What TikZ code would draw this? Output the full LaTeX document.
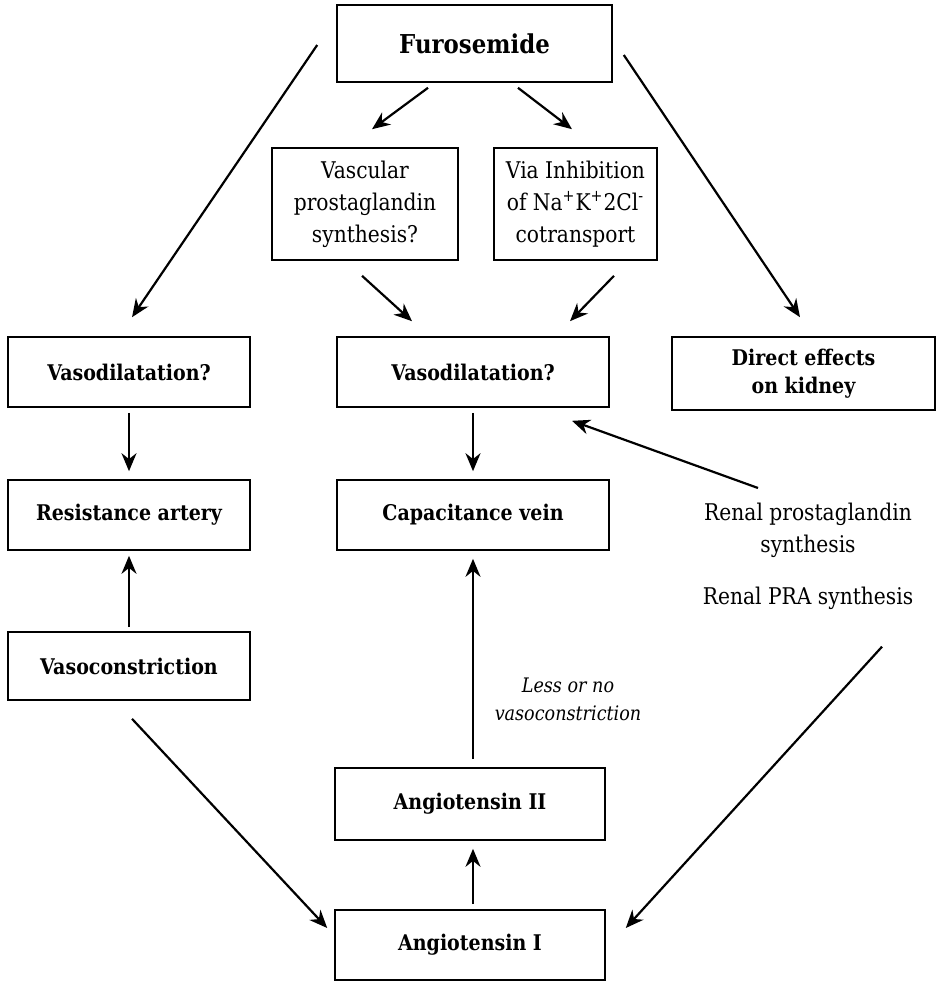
\documentclass[tikz,border=0pt]{standalone}
\usepackage{fontspec}
\setmainfont{DejaVu Serif}[FakeStretch=0.88]
\usetikzlibrary{arrows.meta,calc}
\tikzset{
  box/.style={draw=black, line width=0.8pt, inner sep=0pt, align=center},
  boldtxt/.style={font=\fontsize{10.8}{14}\selectfont\bfseries},
  regtxt/.style={font=\fontsize{11.5}{16}\selectfont},
  arr/.style={line width=1.1pt, -{Stealth[length=9pt,width=7.5pt]}},
}
\begin{document}
\begin{tikzpicture}[x=0.5pt,y=-0.5pt]
\useasboundingbox (0,0) rectangle (948,986);
\fill[white] (0,0) rectangle (948,986);
% boxes
\node[box, minimum width=137.5pt, minimum height=38.5pt, font=\fontsize{13}{16}\selectfont\bfseries] (furo) at (474.5,43.5) {Furosemide};
\node[box, regtxt, minimum width=93pt, minimum height=56pt] (vasc) at (365,204) {Vascular\\prostaglandin\\synthesis?};
\node[box, regtxt, minimum width=81.5pt, minimum height=56pt] (via) at (575.5,204) {Via Inhibition\\of Na\textsuperscript{+}K\textsuperscript{+}2Cl\textsuperscript{-}\\cotransport};
\node[box, boldtxt, minimum width=121pt, minimum height=35pt] (lvd) at (129,372) {Vasodilatation?};
\node[box, boldtxt, minimum width=136pt, minimum height=35pt] (mvd) at (473,372) {Vasodilatation?};
\node[box, boldtxt, minimum width=131.5pt, minimum height=36.5pt] (dek) at (803.5,373.5) {Direct effects\\on kidney};
\node[box, boldtxt, minimum width=121pt, minimum height=35pt] (ra) at (129,515) {Resistance artery};
\node[box, boldtxt, minimum width=136pt, minimum height=35pt] (cv) at (473,515) {Capacitance vein};
\node[box, boldtxt, minimum width=121pt, minimum height=34pt] (vc) at (129,666) {Vasoconstriction};
\node[box, boldtxt, minimum width=135pt, minimum height=36pt] (a2) at (470,804) {Angiotensin II};
\node[box, boldtxt, minimum width=135pt, minimum height=35pt] (a1) at (470,945) {Angiotensin I};
% free labels
\node[regtxt, align=center, anchor=north, inner sep=0pt] (rps) at (808,503) {Renal prostaglandin\\synthesis};
\node[regtxt, inner sep=0pt] (pra) at (808,598) {Renal PRA synthesis};
\node[font=\fontsize{10}{14}\selectfont\itshape, align=center, inner sep=0pt] (less) at (568,699) {Less or no\\vasoconstriction};
% arrows
\draw[arr] ($(furo.south)+(-46.5,5)$) -- ($(vasc.north)+(7,-18)$);
\draw[arr] ($(furo.south)+(43.5,5)$) -- ($(via.north)+(-3.5,-18)$);
\draw[arr] ($(furo.west)+(-19,1.5)$) -- ($(lvd.north)+(3,-19)$);
\draw[arr] ($(furo.east)+(11,11.5)$) -- ($(dek.north)+(-3.5,-19)$);
\draw[arr] ($(vasc.south)+(-3,15)$) -- ($(mvd.north)+(-61,-15)$);
\draw[arr] ($(via.south)+(38.5,15)$) -- ($(mvd.north)+(97,-15)$);
\draw[arr] ($(lvd.south)+(0,5)$) -- ($(ra.north)+(0,-8)$);
\draw[arr] ($(mvd.south)+(0,5)$) -- ($(cv.north)+(0,-8)$);
\draw[arr] ($(rps.north)+(-50,-15)$) -- ($(mvd.south)+(99,13)$);
\draw[arr] ($(vc.north)+(0,-4)$) -- ($(ra.south)+(0,5)$);
\draw[arr] ($(a2.north)+(3,-8)$) -- ($(cv.south)+(0,8)$);
\draw[arr] ($(a1.north)+(3,-5)$) -- ($(a2.south)+(3,8)$);
\draw[arr] ($(vc.south)+(3,18)$) -- ($(a1.west)+(-7,-17)$);
\draw[arr] ($(pra.south)+(74,37)$) -- ($(a1.east)+(20,-17)$);
\end{tikzpicture}
\end{document}
